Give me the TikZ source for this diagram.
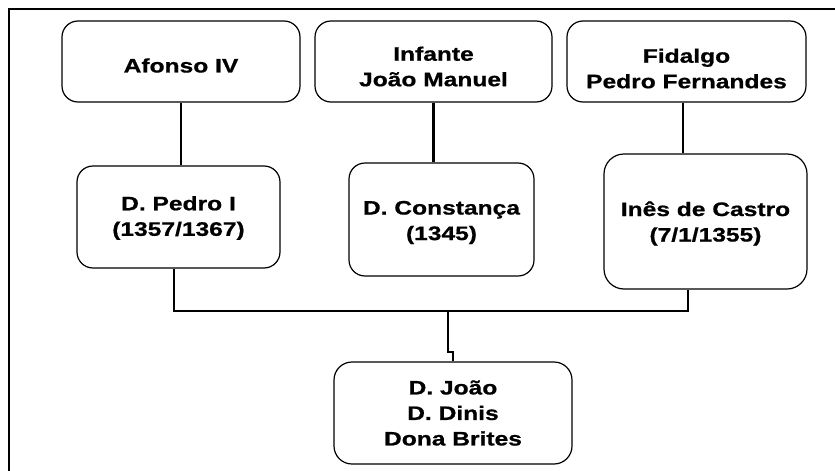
\documentclass[tikz,border=0pt]{standalone}
\usepackage{fontspec}
\newfontfamily\boxfont[FakeStretch=1.26,FakeBold=0.8]{Liberation Sans}
\usepackage{tikz}

\begin{document}
\begin{tikzpicture}[x=1pt,y=-1pt,
  box/.style={draw,rounded corners=16pt,line width=1.2pt,inner sep=0pt},
  txt/.style={align=center,inner sep=0pt,
    font=\boxfont\bfseries\fontsize{19.5}{25.5}\selectfont},
  link/.style={line width=2.4pt}]
\useasboundingbox (0,0) rectangle (835,471);
%%% frame %%%
\draw[line width=1.8pt] (9,471) -- (9,9) -- (835,9);

%%% parents %%%
  \node (Af) at (181,61.5) [box,minimum width=238pt,minimum height=81pt] {};
  \node (JM) at (433.5,61.5) [box,minimum width=237pt,minimum height=81pt] {};
  \node (PF) at (686.5,61.5) [box,minimum width=239pt,minimum height=81pt] {};

%%% couple %%%
  \node (Pd) at (178.5,217) [box,minimum width=203pt,minimum height=102pt] {};
  \node (Co) at (441.5,219.5) [box,minimum width=185pt,minimum height=113pt] {};
  \node (In) at (705.5,221.5) [box,minimum width=203pt,minimum height=135pt,rounded corners=20pt] {};

%%% children %%%
  \node (Fi) at (453,413) [box,minimum width=238pt,minimum height=102pt,rounded corners=18pt] {};

\node (Aft) at ([yshift=-4pt]Af) [txt] {Afonso IV};
\node (JMt) at ([yshift=-5pt]JM) [txt] {Infante\\Jo\~ao Manuel};
\node (PFt) at ([yshift=-7pt]PF) [txt] {Fidalgo\\Pedro Fernandes};
\node (Pdt) at ([yshift=-1pt]Pd) [txt] {D. Pedro I\\(1357/1367)};
\node (Cot) at ([yshift=-3pt]Co) [txt] {D. Constan\c{c}a\\(1345)};
\node (Int) at ([yshift=-2pt]In) [txt] {In\^es de Castro\\(7/1/1355)};
\node (Fit) at (Fi) [txt] {D. Jo\~ao\\D. Dinis\\Dona Brites};

\coordinate (bar) at (448,311);

\draw[link]
   (Af.south) -- (Af.south |- Pd.north)
   (JM.south) -- (JM.south |- Co.north)
   ([xshift=-3.5pt]PF.south) -- ([xshift=-3.5pt]PF.south |- In.north);

\draw[link]
   ([xshift=-4.5pt]Pd.south) |- (bar) -| ([xshift=-17.5pt]In.south)
   (bar) -- ++(0,41) -| (Fi.north);
\end{tikzpicture}
\end{document}
